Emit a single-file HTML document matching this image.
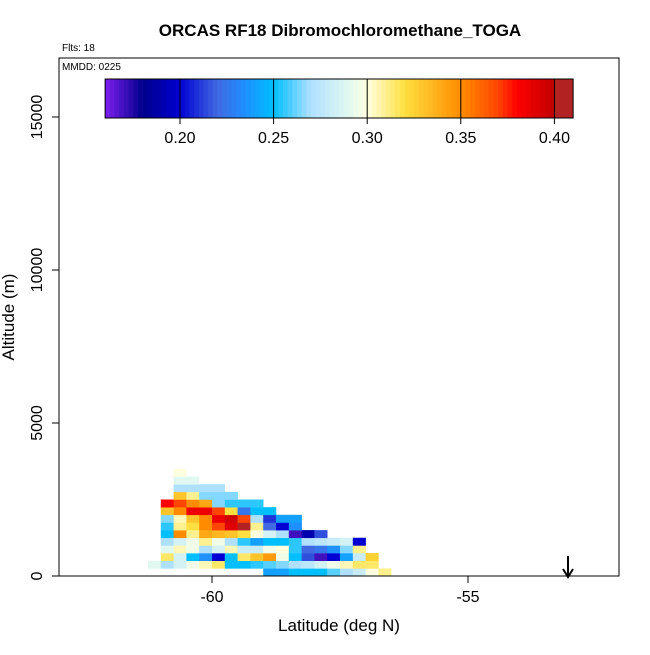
<!DOCTYPE html>
<html><head><meta charset="utf-8"><style>
body{margin:0;background:#fff;font-family:"Liberation Sans",sans-serif}
</style></head><body>
<svg id="chart" width="650" height="650" xmlns="http://www.w3.org/2000/svg">
<defs>
<linearGradient id="cb" x1="0" x2="1" y1="0" y2="0"></linearGradient>
</defs>
<text x="340" y="36" text-anchor="middle" font-size="17" font-weight="bold">ORCAS RF18 Dibromochloromethane_TOGA</text>
<text x="62" y="51" font-size="10">Flts: 18</text>
<g id="cells"></g>
<rect x="59" y="58" width="560" height="518" fill="none" stroke="#000"/>
<text x="62" y="70" font-size="10">MMDD: 0225</text>
<g id="colorbar"></g>
<g id="axes"></g>
<text x="339" y="631" text-anchor="middle" font-size="17">Latitude (deg N)</text>
<text transform="translate(14,317) rotate(-90)" text-anchor="middle" font-size="17">Altitude (m)</text>
<g>
<line x1="568" y1="556" x2="568" y2="576" stroke="#000" stroke-width="2"/>
<polyline points="563,569 568,577 573,569" fill="none" stroke="#000" stroke-width="2"/>
</g>
</svg>
<script>
const xTicks=[-60,-55];
const yTicks=[0,5000,10000,15000];
const cbTicks=[0.20,0.25,0.30,0.35,0.40];
const latStart=-61.25, latStep=0.25, altStep=250;
// rows from bottom (0-250m) upward; each entry [columnIndex, value]
const row0=[[9,0.24],[10,0.24],[11,0.25],[12,0.25],[13,0.25],[14,0.26],[15,0.27],[16,0.28],[17,0.30],[18,0.31]];
const row1=[[0,0.29],[1,0.27],[2,0.285],[3,0.295],[4,0.305],[5,0.315],[6,0.25],[7,0.25],[8,0.255],[9,0.26],[10,0.265],[11,0.27],[12,0.275],[13,0.285],[14,0.295],[15,0.305],[16,0.315],[17,0.315]];
const row2=[[1,0.315],[2,0.285],[3,0.25],[4,0.235],[5,0.20],[6,0.25],[7,0.315],[8,0.33],[9,0.345],[10,0.295],[11,0.25],[12,0.215],[13,0.17],[14,0.20],[15,0.24],[16,0.28],[17,0.325]];
const row3=[[1,0.29],[2,0.305],[3,0.295],[4,0.27],[5,0.285],[6,0.305],[7,0.28],[8,0.28],[9,0.295],[10,0.30],[11,0.255],[12,0.22],[13,0.225],[14,0.235],[15,0.265],[16,0.31]];
const row4=[[1,0.27],[2,0.285],[3,0.295],[4,0.31],[5,0.295],[6,0.27],[7,0.255],[8,0.24],[9,0.25],[10,0.25],[11,0.255],[12,0.27],[13,0.275],[14,0.28],[15,0.285],[16,0.20]];
const row5=[[1,0.25],[2,0.35],[3,0.31],[4,0.34],[5,0.335],[6,0.33],[7,0.32],[8,0.30],[9,0.285],[10,0.27],[11,0.17],[12,0.19],[13,0.215]];
const row6=[[1,0.255],[2,0.31],[3,0.32],[4,0.35],[5,0.37],[6,0.39],[7,0.405],[8,0.31],[9,0.22],[10,0.20],[11,0.235]];
const row7=[[1,0.265],[2,0.305],[3,0.33],[4,0.35],[5,0.385],[6,0.395],[7,0.37],[8,0.27],[9,0.21],[10,0.24],[11,0.24]];
const row8=[[1,0.33],[2,0.35],[3,0.385],[4,0.385],[5,0.37],[6,0.32],[7,0.225],[8,0.25],[9,0.25]];
const row9=[[1,0.38],[2,0.37],[3,0.35],[4,0.34],[5,0.265],[6,0.255],[7,0.255],[8,0.255]];
const row10=[[2,0.33],[3,0.31],[4,0.265],[5,0.265],[6,0.265]];
const row11=[[2,0.27],[3,0.27],[4,0.27],[5,0.27]];
const row12=[[2,0.29],[3,0.29]];
const row13=[[2,0.30]];
const rows=[row0,row1,row2,row3,row4,row5,row6,row7,row8,row9,row10,row11,row12,row13];

const stops=[[0.16,[128,32,240]],[0.18,[0,0,140]],[0.20,[0,0,210]],[0.22,[65,105,225]],[0.235,[30,144,255]],[0.25,[0,191,255]],[0.27,[176,224,255]],[0.29,[224,248,240]],[0.30,[255,255,224]],[0.32,[255,224,64]],[0.35,[255,140,0]],[0.37,[255,69,0]],[0.38,[255,0,0]],[0.40,[192,0,0]],[0.401,[178,34,34]],[0.41,[178,34,34]]];
function col(v){
  if(v<=stops[0][0])return 'rgb('+stops[0][1]+')';
  for(let i=1;i<stops.length;i++){if(v<=stops[i][0]){const a=stops[i-1],b=stops[i],t=(v-a[0])/(b[0]-a[0]);
  return 'rgb('+a[1].map((c,k)=>Math.round(c+(b[1][k]-c)*t)).join(',')+')';}}
  return 'rgb('+stops[stops.length-1][1]+')';
}
const X=lat=>212+(lat+60)*51.2;
const Y=alt=>576-alt*0.0306;
const CB=v=>180+(v-0.20)*1872;
const NS='http://www.w3.org/2000/svg';
function mk(t,a,p){const e=document.createElementNS(NS,t);for(const k in a)e.setAttribute(k,a[k]);p.appendChild(e);return e;}
const cells=document.getElementById('cells');
rows.forEach((r,ri)=>r.forEach(([c,v])=>{
  const x0=X(latStart+c*latStep),x1=X(latStart+(c+1)*latStep),y0=Y((ri+1)*altStep),y1=Y(ri*altStep);
  const e=mk('rect',{x:x0,y:y0,width:x1-x0+0.3,height:y1-y0+0.3,fill:col(v)},cells);
  
  
}));
// colorbar
const cbg=document.getElementById('colorbar');
for(let v=0.16;v<0.41;v+=0.0025){mk('rect',{x:CB(v),y:79,width:CB(v+0.0025)-CB(v)+0.4,height:39,fill:col(v+0.00125)},cbg);}
mk('rect',{x:CB(0.16),y:79,width:CB(0.41)-CB(0.16),height:39,fill:'none',stroke:'#000'},cbg);
cbTicks.forEach(v=>{mk('line',{x1:CB(v),x2:CB(v),y1:79,y2:124,stroke:'#000'},cbg);
  const t=mk('text',{x:CB(v),y:143,'text-anchor':'middle','font-size':16},cbg);t.textContent=v.toFixed(2);
  
  });
const ax=document.getElementById('axes');
xTicks.forEach(v=>{mk('line',{x1:X(v),x2:X(v),y1:576,y2:583,stroke:'#000'},ax);
  const t=mk('text',{x:X(v),y:602,'text-anchor':'middle','font-size':16},ax);t.textContent=v;
  
  });
yTicks.forEach(v=>{mk('line',{x1:52,x2:59,y1:Y(v),y2:Y(v),stroke:'#000'},ax);
  const t=mk('text',{transform:'translate(42,'+Y(v)+') rotate(-90)','text-anchor':'middle','font-size':16},ax);t.textContent=v;
  
  });
</script>
</body></html>
